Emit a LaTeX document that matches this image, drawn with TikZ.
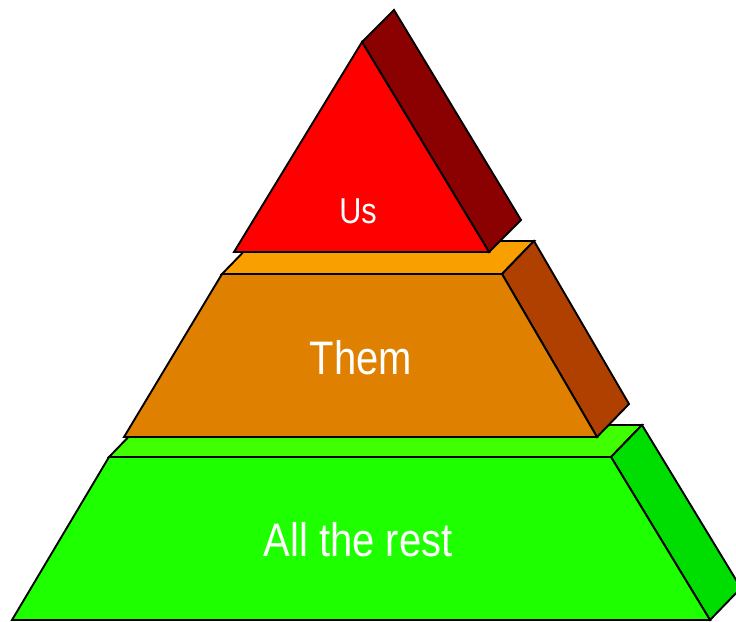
\documentclass[tikz,border=0pt]{standalone}
\usepackage{fontspec}
\setmainfont[FakeStretch=0.85]{Liberation Sans}
\usepackage{tikz}
\usetikzlibrary{calc}

\definecolor{usfront}{HTML}{FF0000}
\definecolor{usside}{HTML}{8B0000}
\definecolor{themtop}{HTML}{F9A000}
\definecolor{themfront}{HTML}{E08000}
\definecolor{themside}{HTML}{B04000}
\definecolor{resttop}{HTML}{40FF00}
\definecolor{restfront}{HTML}{1EFF00}
\definecolor{restside}{HTML}{00DD00}

\begin{document}
\begin{tikzpicture}[x=1pt, y=-1pt,
	face/.style={draw=black, line width=1.9pt, line join=miter},
	label/.style={text=white, inner sep=0pt}]
	\useasboundingbox (0,0) rectangle (736,621);
	\clip (0,0) rectangle (736,621);

	% bottom block
	\coordinate (r-tl) at (109,457);
	\coordinate (r-tr) at (611,457);
	\coordinate (r-br) at (710,620);
	\coordinate (r-bl) at (12,620);
	\coordinate (r-off) at (31,-32);
	\path[face, fill=resttop] (r-tl) -- (r-tr) -- ($(r-tr)+(r-off)$) -- ($(r-tl)+(r-off)$) -- cycle;
	\path[face, fill=restside] (r-tr) -- ($(r-tr)+(r-off)$) -- ($(r-br)+(r-off)$) -- (r-br) -- cycle;
	\path[face, fill=restfront] (r-tl) -- (r-tr) -- (r-br) -- (r-bl) -- cycle;

	% middle block
	\coordinate (t-tl) at (222,274);
	\coordinate (t-tr) at (502,274);
	\coordinate (t-br) at (597,437);
	\coordinate (t-bl) at (124,437);
	\coordinate (t-off) at (32,-33);
	\path[face, fill=themtop] (t-tl) -- (t-tr) -- ($(t-tr)+(t-off)$) -- ($(t-tl)+(t-off)$) -- cycle;
	\path[face, fill=themside] (t-tr) -- ($(t-tr)+(t-off)$) -- ($(t-br)+(t-off)$) -- (t-br) -- cycle;
	\path[face, fill=themfront] (t-tl) -- (t-tr) -- (t-br) -- (t-bl) -- cycle;

	% top block
	\coordinate (u-top) at (362,42);
	\coordinate (u-br) at (489,252);
	\coordinate (u-bl) at (234,252);
	\coordinate (u-off) at (32,-32);
	\path[face, fill=usside] (u-top) -- ($(u-top)+(u-off)$) -- ($(u-br)+(u-off)$) -- (u-br) -- cycle;
	\path[face, fill=usfront] (u-top) -- (u-br) -- (u-bl) -- cycle;

	\node[label, font=\fontsize{36}{40}\selectfont] (us) at (358,211) {Us};
	\node[label, font=\fontsize{47}{50}\selectfont] (them) at (361,358) {Them};
	\node[label, font=\fontsize{47}{50}\selectfont] (rest) at (358,540) {All the rest};
\end{tikzpicture}
\end{document}
